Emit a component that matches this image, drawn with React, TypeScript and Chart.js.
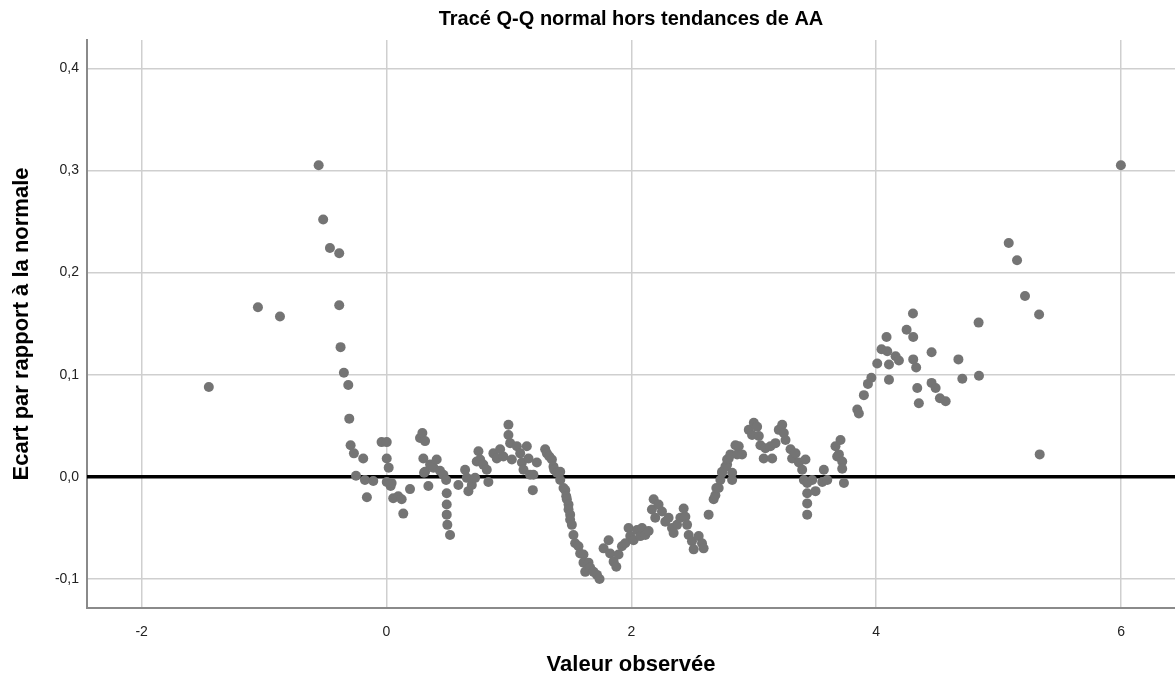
import React, { useEffect, useRef } from "react";
import { Chart, registerables } from "chart.js";

Chart.register(...registerables);

const chartTitle = "Tracé Q-Q normal hors tendances de AA";
const xAxisTitle = "Valeur observée";
const yAxisTitle = "Ecart par rapport à la normale";

const xTicks = [-2, 0, 2, 4, 6];
const yTicks = [-0.1, 0, 0.1, 0.2, 0.3, 0.4];

const observed = [
  -1.451, -1.05, -0.87, -0.554, -0.517, -0.462, -0.386, -0.386, -0.375, -0.348,
  -0.312, -0.304, -0.293, -0.266, -0.249, -0.19, -0.176, -0.16, -0.108, -0.04,
  0.002, 0.002, 0.018, 0.002, 0.034, 0.042, 0.055, 0.096, 0.124, 0.137,
  0.192, 0.274, 0.293, 0.315, 0.301, 0.307, 0.315, 0.342, 0.356, 0.383,
  0.41, 0.437, 0.465, 0.487, 0.492, 0.492, 0.492, 0.497, 0.519, 0.587,
  0.642, 0.656, 0.669, 0.697, 0.724, 0.737, 0.751, 0.765, 0.791, 0.819,
  0.832, 0.873, 0.901, 0.928, 0.955, 0.996, 0.996, 1.01, 1.024, 1.065,
  1.092, 1.106, 1.119, 1.146, 1.16, 1.173, 1.195, 1.2, 1.228, 1.296,
  1.31, 1.33, 1.351, 1.364, 1.37, 1.392, 1.419, 1.419, 1.446, 1.46,
  1.468, 1.473, 1.487, 1.487, 1.5, 1.5, 1.514, 1.527, 1.541, 1.568,
  1.582, 1.609, 1.609, 1.623, 1.65, 1.664, 1.691, 1.719, 1.74, 1.773,
  1.814, 1.827, 1.855, 1.877, 1.895, 1.923, 1.95, 1.977, 1.991, 2.018,
  2.046, 2.073, 2.087, 2.114, 2.141, 2.168, 2.182, 2.195, 2.222, 2.25,
  2.277, 2.304, 2.332, 2.345, 2.373, 2.4, 2.427, 2.441, 2.455, 2.468,
  2.495, 2.509, 2.55, 2.577, 2.59, 2.631, 2.672, 2.686, 2.694, 2.713,
  2.727, 2.741, 2.741, 2.768, 2.782, 2.782, 2.795, 2.809, 2.823, 2.823,
  2.85, 2.864, 2.877, 2.904, 2.959, 2.986, 3.0, 3.027, 3.041, 3.054,
  3.081, 3.095, 3.136, 3.15, 3.177, 3.204, 3.232, 3.245, 3.259, 3.3,
  3.313, 3.341, 3.368, 3.395, 3.409, 3.422, 3.436, 3.436, 3.436, 3.436,
  3.477, 3.504, 3.559, 3.572, 3.6, 3.667, 3.681, 3.695, 3.708, 3.722,
  3.722, 3.736, 3.845, 3.858, 3.899, 3.932, 3.96, 4.008, 4.043, 4.084,
  4.09, 4.104, 4.104, 4.158, 4.185, 4.248, 4.3, 4.302, 4.302, 4.326,
  4.335, 4.348, 4.452, 4.452, 4.485, 4.52, 4.567, 4.671, 4.703, 4.836,
  4.839, 5.082, 5.15, 5.215, 5.33, 5.335, 5.998,
];

const deviation = [
  0.088, 0.166, 0.157, 0.305, 0.252, 0.224, 0.219, 0.168, 0.127, 0.102,
  0.09, 0.057, 0.031, 0.023, 0.001, 0.018, -0.003, -0.02, -0.004, 0.034,
  0.034, 0.018, 0.009, -0.005, -0.009, -0.006, -0.021, -0.019, -0.022, -0.036,
  -0.012, 0.038, 0.043, 0.035, 0.018, 0.004, 0.005, -0.009, 0.012, 0.009,
  0.017, 0.006, 0.002, -0.003, -0.016, -0.027, -0.037, -0.047, -0.057, -0.008,
  0.007, -0.001, -0.014, -0.008, -0.001, 0.015, 0.025, 0.017, 0.012, 0.007,
  -0.005, 0.023, 0.018, 0.027, 0.02, 0.051, 0.041, 0.033, 0.017, 0.03,
  0.023, 0.014, 0.007, 0.03, 0.018, 0.002, -0.013, 0.002, 0.014, 0.027,
  0.023, 0.02, 0.017, 0.01, 0.007, 0.004, -0.003, 0.005, -0.011, -0.013,
  -0.019, -0.022, -0.027, -0.032, -0.037, -0.042, -0.047, -0.057, -0.065, -0.068,
  -0.075, -0.076, -0.084, -0.093, -0.084, -0.089, -0.093, -0.096, -0.1, -0.07,
  -0.062, -0.075, -0.083, -0.088, -0.076, -0.068, -0.065, -0.05, -0.058, -0.062,
  -0.052, -0.058, -0.05, -0.057, -0.053, -0.032, -0.022, -0.04, -0.027, -0.034,
  -0.044, -0.04, -0.05, -0.055, -0.047, -0.04, -0.031, -0.039, -0.047, -0.057,
  -0.063, -0.071, -0.058, -0.065, -0.07, -0.037, -0.022, -0.018, -0.011, -0.011,
  -0.003, 0.004, 0.005, 0.01, 0.012, 0.017, 0.018, 0.022, 0.004, -0.003,
  0.031, 0.022, 0.03, 0.022, 0.046, 0.041, 0.053, 0.049, 0.04, 0.031,
  0.018, 0.028, 0.03, 0.018, 0.033, 0.046, 0.051, 0.043, 0.036, 0.027,
  0.018, 0.023, 0.014, 0.007, -0.003, 0.017, -0.006, -0.016, -0.026, -0.037,
  -0.003, -0.014, -0.005, 0.007, -0.003, 0.03, 0.02, 0.022, 0.036, 0.015,
  0.008, -0.006, 0.066, 0.062, 0.08, 0.091, 0.097, 0.111, 0.125, 0.137,
  0.123, 0.11, 0.095, 0.118, 0.114, 0.144, 0.16, 0.137, 0.115, 0.107,
  0.087, 0.072, 0.122, 0.092, 0.087, 0.077, 0.074, 0.115, 0.096, 0.151,
  0.099, 0.229, 0.212, 0.177, 0.159, 0.022, 0.305,
];

const referenceLevel = 0;

const FONT = "'Liberation Sans', Arial, sans-serif";

const overlayPlugin = {
  id: "overlay",
  beforeDatasetsDraw(chart: any) {
    const { ctx, chartArea, scales } = chart;
    const y = scales.y.getPixelForValue(referenceLevel);
    ctx.save();
    ctx.strokeStyle = "#000000";
    ctx.lineWidth = 3.5;
    ctx.beginPath();
    ctx.moveTo(chartArea.left, y);
    ctx.lineTo(chartArea.right, y);
    ctx.stroke();
    ctx.restore();
  },
  afterDraw(chart: any) {
    const { ctx, chartArea } = chart;
    ctx.save();
    ctx.font = `bold 20px ${FONT}`;
    ctx.fillStyle = "#000000";
    ctx.textAlign = "center";
    ctx.textBaseline = "middle";
    ctx.fillText(chartTitle, (chartArea.left + chartArea.right) / 2, 19);
    ctx.restore();
  },
};

export default function App() {
  const canvasRef = useRef<HTMLCanvasElement | null>(null);

  useEffect(() => {
    document.body.style.margin = "0";
    const canvas = canvasRef.current;
    if (!canvas) return;
    const points = observed.map((x, i) => ({ x, y: deviation[i] }));
    const chart = new Chart(canvas, {
      type: "scatter",
      data: {
        datasets: [
          {
            data: points,
            backgroundColor: "#747474",
            borderColor: "#747474",
            borderWidth: 0,
            pointRadius: 5,
            pointHoverRadius: 5,
          },
        ],
      },
      options: {
        responsive: false,
        animation: false,
        devicePixelRatio: 1,
        layout: { autoPadding: false, padding: { top: 40, right: 0, left: 0, bottom: 0 } },
        plugins: {
          legend: { display: false },
          tooltip: { enabled: false },
          title: { display: false },
        },
        scales: {
          x: {
            type: "linear",
            min: -2.446,
            max: 6.44,
            afterBuildTicks: (s: any) => {
              s.ticks = xTicks.map((v) => ({ value: v }));
            },
            afterFit: (s: any) => {
              s.height = 73;
              s.paddingLeft = 0;
              s.paddingRight = 0;
            },
            ticks: {
              font: { family: FONT, size: 14 },
              color: "#222222",
              padding: 16,
              callback: (v: any) => String(v),
            },
            grid: { color: "#cfcfcf", lineWidth: 1.5, drawTicks: false },
            border: { display: true, color: "#8a8a8a", width: 2 },
            title: {
              display: true,
              text: xAxisTitle,
              font: { family: FONT, size: 22, weight: "bold" },
              color: "#000000",
              padding: { top: 0, bottom: 3 },
            },
          },
          y: {
            type: "linear",
            min: -0.1284,
            max: 0.4277,
            afterBuildTicks: (s: any) => {
              s.ticks = yTicks.map((v) => ({ value: v }));
            },
            afterFit: (s: any) => {
              s.width = 87;
              s.paddingTop = 0;
              s.paddingBottom = 0;
            },
            ticks: {
              font: { family: FONT, size: 14 },
              color: "#222222",
              padding: 8,
              callback: (v: any) => Number(v).toFixed(1).replace(".", ","),
            },
            grid: { color: "#cfcfcf", lineWidth: 1.5, drawTicks: false },
            border: { display: true, color: "#8a8a8a", width: 2 },
            title: {
              display: true,
              text: yAxisTitle,
              font: { family: FONT, size: 22, weight: "bold" },
              color: "#000000",
              padding: { top: 9, bottom: 0 },
            },
          },
        },
      },
      plugins: [overlayPlugin],
    });
    return () => chart.destroy();
  }, []);

  return <canvas ref={canvasRef} width={1175} height={681} style={{ display: "block" }} />;
}
